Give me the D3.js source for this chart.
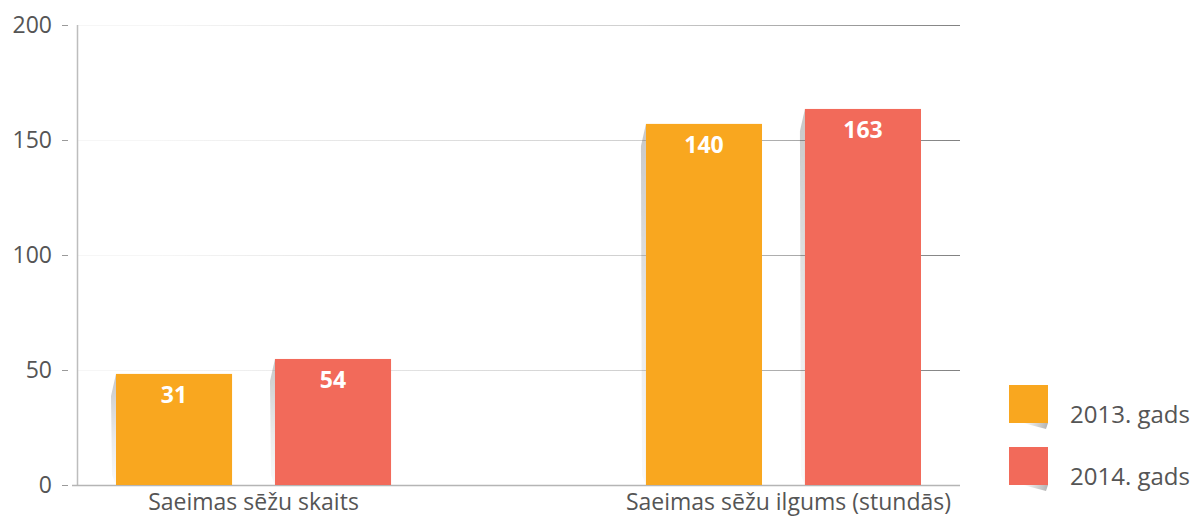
<!DOCTYPE html>
<html>
<head>
<meta charset="utf-8">
<script src="https://cdn.jsdelivr.net/npm/d3@7"></script>
<style>
  body { margin: 0; background: #fff; }
  svg { display: block; }
  text { font-family: "Open Sans", "Noto Sans", sans-serif; }
</style>
</head>
<body>
<script>
"use strict";

// data
var categories = ["Saeimas sēžu skaits", "Saeimas sēžu ilgums (stundās)"];
var seriesNames = ["2013. gads", "2014. gads"];
// bar heights as drawn (axis units)
var values2013 = [48.3, 157];
var values2014 = [54.8, 163.5];
// labels printed on the bars
var labels2013 = ["31", "140"];
var labels2014 = ["54", "163"];
var yTicks = [0, 50, 100, 150, 200];
var colors = ["#f9a71f", "#f26a5a"];

var width = 1191, height = 517;
var margin = {top: 25, right: 231, bottom: 32, left: 77};
var plotW = width - margin.left - margin.right,
    plotH = height - margin.top - margin.bottom;

var svg = d3.select("body").append("svg")
    .attr("width", width)
    .attr("height", height);

var defs = svg.append("defs");

// grid line gradient: light on the left, darker on the right
var gridGrad = defs.append("linearGradient").attr("id", "gridgrad")
    .attr("gradientUnits", "userSpaceOnUse")
    .attr("x1", margin.left).attr("y1", 0)
    .attr("x2", margin.left + plotW).attr("y2", 0);
gridGrad.append("stop").attr("offset", "0%").attr("stop-color", "#f6f6f6");
gridGrad.append("stop").attr("offset", "55%").attr("stop-color", "#cfcfcf");
gridGrad.append("stop").attr("offset", "100%").attr("stop-color", "#6f6f6f");

// curled shadow gradient for bars
var shGrad = defs.append("linearGradient").attr("id", "shadowgrad")
    .attr("x1", "0%").attr("y1", "0%").attr("x2", "0%").attr("y2", "100%");
shGrad.append("stop").attr("offset", "0%").attr("stop-color", "#000").attr("stop-opacity", 0.22);
shGrad.append("stop").attr("offset", "60%").attr("stop-color", "#000").attr("stop-opacity", 0.08);
shGrad.append("stop").attr("offset", "100%").attr("stop-color", "#000").attr("stop-opacity", 0.02);

var legGrad = defs.append("linearGradient").attr("id", "legshadow")
    .attr("x1", "0%").attr("y1", "0%").attr("x2", "100%").attr("y2", "0%");
legGrad.append("stop").attr("offset", "0%").attr("stop-color", "#000").attr("stop-opacity", 0);
legGrad.append("stop").attr("offset", "100%").attr("stop-color", "#000").attr("stop-opacity", 0.3);

var g = svg.append("g")
    .attr("transform", "translate(" + margin.left + "," + margin.top + ")");

var y = d3.scaleLinear().domain([0, 200]).range([plotH, 0]);

var x0 = d3.scaleBand().domain(categories).range([0, plotW])
    .paddingInner(0.481).paddingOuter(0.0736);
var x1 = d3.scaleBand().domain(seriesNames).range([0, x0.bandwidth()])
    .paddingInner(0.27).paddingOuter(0);

// grid lines
g.append("g").selectAll("line")
    .data(yTicks.filter(function(d) { return d > 0; }))
    .enter().append("line")
    .attr("x1", 0).attr("x2", plotW)
    .attr("y1", function(d) { return y(d) + 0.5; })
    .attr("y2", function(d) { return y(d) + 0.5; })
    .attr("stroke", "url(#gridgrad)")
    .attr("stroke-width", 1);

// y axis: ticks sit a little left of the axis line
var yAxis = g.append("g")
    .attr("transform", "translate(-9,0)")
    .call(d3.axisLeft(y).tickValues(yTicks).tickSize(6).tickPadding(10));
yAxis.select(".domain").remove();
yAxis.selectAll(".tick line").attr("stroke", "#9a9a9a");
yAxis.selectAll(".tick text")
    .attr("fill", "#555")
    .style("font-size", "23px")
    .style("font-family", "'Open Sans', sans-serif");

// axis line and baseline
g.append("line")
    .attr("x1", 0.5).attr("x2", 0.5)
    .attr("y1", 0).attr("y2", plotH)
    .attr("stroke", "#bdbdbd").attr("stroke-width", 1.5);
g.append("line")
    .attr("x1", -5).attr("x2", plotW)
    .attr("y1", plotH + 0.5).attr("y2", plotH + 0.5)
    .attr("stroke", "#b5b5b5").attr("stroke-width", 1.5);

// bars
var rows = categories.map(function(c, i) {
    return {
        cat: c,
        bars: [
            {s: seriesNames[0], v: values2013[i], label: labels2013[i], color: colors[0]},
            {s: seriesNames[1], v: values2014[i], label: labels2014[i], color: colors[1]}
        ]
    };
});

var groups = g.selectAll(".grp")
    .data(rows)
    .enter().append("g")
    .attr("class", "grp")
    .attr("transform", function(d) { return "translate(" + x0(d.cat) + ",0)"; });

var bar = groups.selectAll(".bar")
    .data(function(d) { return d.bars; })
    .enter().append("g")
    .attr("class", "bar");

// curled shadow on the left edge
bar.append("path")
    .attr("d", function(d) {
        var bx = x1(d.s), top = y(d.v), bot = y(0);
        return "M" + bx + "," + top +
            " L" + (bx - 5) + "," + (top + 22) +
            " L" + (bx - 4) + "," + (bot - 10) +
            " L" + bx + "," + bot + " Z";
    })
    .attr("fill", "url(#shadowgrad)");

bar.append("rect")
    .attr("x", function(d) { return x1(d.s); })
    .attr("y", function(d) { return y(d.v); })
    .attr("width", x1.bandwidth())
    .attr("height", function(d) { return y(0) - y(d.v); })
    .attr("fill", function(d) { return d.color; });

bar.append("text")
    .attr("x", function(d) { return x1(d.s) + x1.bandwidth() / 2; })
    .attr("y", function(d) { return y(d.v) + 29; })
    .attr("text-anchor", "middle")
    .attr("fill", "#fff")
    .style("font-size", "23px")
    .style("font-weight", "bold")
    .text(function(d) { return d.label; });

// category labels
g.selectAll(".catlabel")
    .data(categories)
    .enter().append("text")
    .attr("class", "catlabel")
    .attr("x", function(d, i) { return x0(d) + x0.bandwidth() / 2 + (i === 1 ? 5 : 0); })
    .attr("y", plotH + 25)
    .attr("text-anchor", "middle")
    .attr("fill", "#555")
    .style("font-size", "23px")
    .text(function(d) { return d; });

// legend
var legend = svg.append("g").attr("transform", "translate(1009,385)");
var item = legend.selectAll(".leg")
    .data(seriesNames)
    .enter().append("g")
    .attr("class", "leg")
    .attr("transform", function(d, i) { return "translate(0," + (i * 62) + ")"; });

item.append("path")
    .attr("d", "M14,38 L39,38 L37,44 Z")
    .attr("fill", "url(#legshadow)");
item.append("rect")
    .attr("width", 39).attr("height", 38)
    .attr("fill", function(d, i) { return colors[i]; });
item.append("text")
    .attr("x", 61).attr("y", 38)
    .attr("fill", "#555")
    .style("font-size", "24px")
    .text(function(d) { return d; });
</script>
</body>
</html>
